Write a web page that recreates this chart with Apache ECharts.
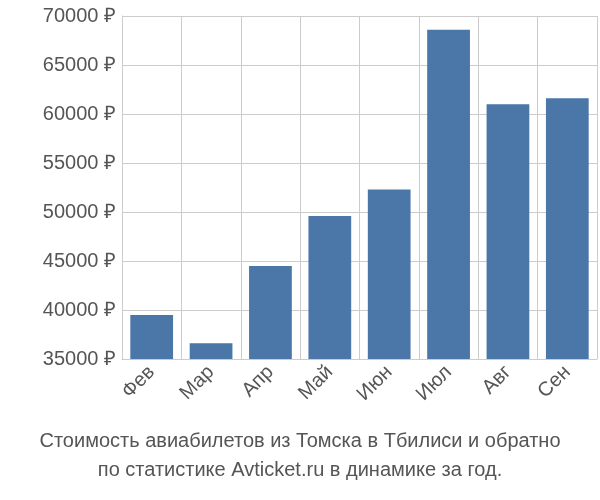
<!DOCTYPE html>
<html><head><meta charset="utf-8">
<script src="https://cdn.jsdelivr.net/npm/echarts@6/dist/echarts.min.js"></script>
</head><body style="margin:0">
<div id="c" style="width:600px;height:500px"></div>
<script>
const categories = ['Фев','Мар','Апр','Май','Июн','Июл','Авг','Сен'];
const prices = [39500, 36600, 44500, 49600, 52300, 68600, 61000, 61600];
const chart = echarts.init(document.getElementById('c'));
chart.setOption({
  animation: false,
  title: {
    text: 'Стоимость авиабилетов из Томска в Тбилиси и обратно\nпо статистике Avticket.ru в динамике за год.',
    left: 'center', bottom: 10,
    textStyle: {color: '#555', fontSize: 20, fontWeight: 'normal', fontFamily: 'Liberation Sans', lineHeight: 29}
  },
  grid: {left: 122, right: 3, top: 16, bottom: 141},
  xAxis: {
    type: 'category', data: categories,
    axisLine: {lineStyle: {color: '#ccc'}}, axisTick: {show: false},
    splitLine: {show: true, lineStyle: {color: '#ccc'}},
    axisLabel: {rotate: 45, color: '#555', fontSize: 20, fontFamily: 'Liberation Sans', margin: 10, interval: 0}
  },
  yAxis: {
    type: 'value', min: 35000, max: 70000, interval: 5000,
    axisLine: {show: true, lineStyle: {color: '#ccc'}},
    splitLine: {lineStyle: {color: '#ccc'}},
    axisLabel: {formatter: v => v + ' ₽', color: '#555', fontSize: 20, fontFamily: 'Liberation Sans', margin: 6}
  },
  series: [{type: 'bar', data: prices, barWidth: '72%', itemStyle: {color: '#4a76a8'}}]
});
</script></body></html>
